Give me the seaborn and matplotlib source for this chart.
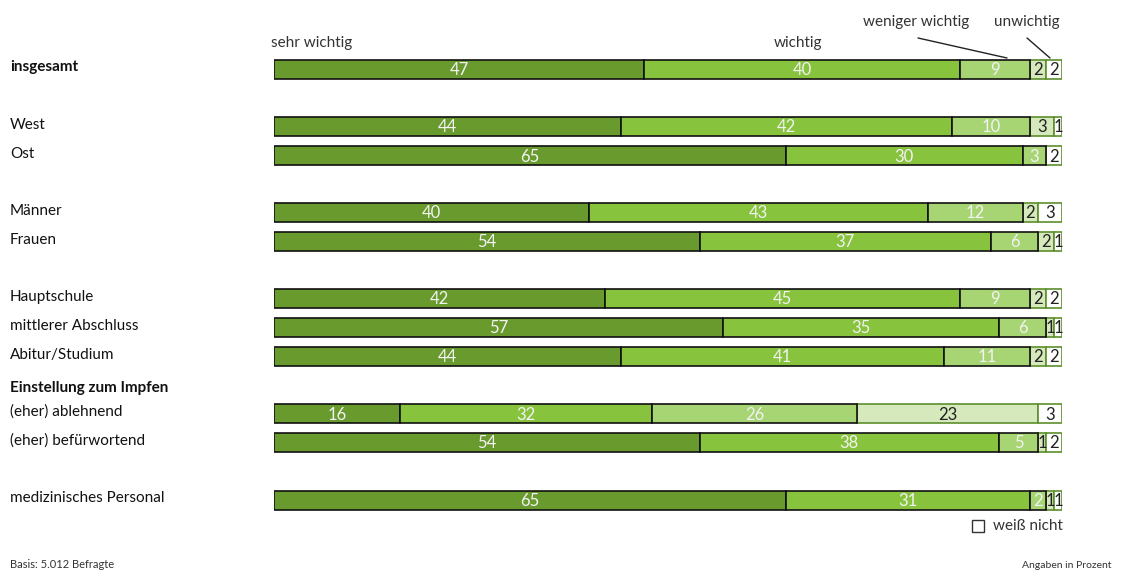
import numpy as np
import matplotlib
matplotlib.use("Agg")
import matplotlib.pyplot as plt
import seaborn as sns

# data ---------------------------------------------------------------
groups = ["insgesamt", "West", "Ost", "Männer", "Frauen", "Hauptschule",
          "mittlerer Abschluss", "Abitur/Studium", "(eher) ablehnend",
          "(eher) befürwortend", "medizinisches Personal"]
categories = ["sehr wichtig", "wichtig", "weniger wichtig", "unwichtig", "weiß nicht"]
sehr_wichtig = [47, 44, 65, 40, 54, 42, 57, 44, 16, 54, 65]
wichtig = [40, 42, 30, 43, 37, 45, 35, 41, 32, 38, 31]
weniger_wichtig = [9, 10, 3, 12, 6, 9, 6, 11, 26, 5, 2]
unwichtig = [2, 3, 0, 2, 2, 2, 1, 2, 23, 1, 1]
weiss_nicht = [2, 1, 2, 3, 1, 2, 1, 2, 3, 2, 1]

# layout (pixel rows from the top of the figure)
W, H = 1142, 570
row_y = [69, 126.5, 155.5, 212.5, 241, 298, 327, 356, 413.5, 442, 500]
bold_rows = {"insgesamt"}
bar_h = 19

colors = ["#699a2e", "#87c33c", "#a7d573", "#d5e9bc", "#ffffff"]
edges = ["#111111", "#111111", "#111111", "#5e8f2c", "#5e8f2c"]
txt_colors = ["#f2f2f2", "#f2f2f2", "#f2f2f2", "#222222", "#222222"]

sns.set_theme(style="white")
plt.rcParams['font.family'] = ['Lato', 'DejaVu Sans']

fig = plt.figure(figsize=(W / 100, H / 100), dpi=100)
x0, x1 = 274, 1062
ax = fig.add_axes([x0 / W, 0, (x1 - x0) / W, 1])
ax.set_xlim(0, 100)
ax.set_ylim(H, 0)
ax.axis("off")

series = [sehr_wichtig, wichtig, weniger_wichtig, unwichtig, weiss_nicht]
left = np.zeros(len(groups))
for k, vals in enumerate(series):
    vals = np.array(vals, dtype=float)
    mask = vals > 0
    ax.barh(np.array(row_y)[mask], vals[mask], left=left[mask], height=bar_h,
            color=colors[k], edgecolor=edges[k], linewidth=1.2, zorder=3 + (k < 3))
    for y, l, v in zip(np.array(row_y)[mask], left[mask], vals[mask]):
        ax.text(l + v / 2, y + 1, f"{int(v)}", ha="center", va="center",
                fontsize=12, color=txt_colors[k], zorder=6)
    left += vals

def px(x, y):
    return x / W, 1 - y / H

for g, y in zip(groups, row_y):
    fig.text(*px(10, y - 1.5), g, ha="left", va="center", fontsize=11,
             color="#111111", fontweight="bold" if g in bold_rows else "normal")
fig.text(*px(10, 388), "Einstellung zum Impfen", ha="left", va="center",
         fontsize=11, color="#111111", fontweight="bold")

# column headers
fig.text(*px(271, 43), "sehr wichtig", ha="left", va="center", fontsize=11, color="#333333")
fig.text(*px(822, 43), "wichtig", ha="right", va="center", fontsize=11, color="#333333")
fig.text(*px(916, 22), "weniger wichtig", ha="center", va="center", fontsize=11, color="#333333")
fig.text(*px(1027, 22), "unwichtig", ha="center", va="center", fontsize=11, color="#333333")
fig.add_artist(plt.Line2D([918 / W, 1007 / W], [1 - 38 / H, 1 - 58 / H], color="#222222", lw=1))
fig.add_artist(plt.Line2D([1027 / W, 1050 / W], [1 - 38 / H, 1 - 58 / H], color="#222222", lw=1))

# legend for "weiß nicht"
fig.add_artist(plt.Rectangle(px(972, 532), 12 / W, 12 / H, facecolor="white",
                             edgecolor="#333333", lw=1))
fig.text(*px(993, 526), "weiß nicht", ha="left", va="center", fontsize=11, color="#333333")

fig.text(*px(10, 565), "Basis: 5.012 Befragte", ha="left", va="center", fontsize=8, color="#333333")
fig.text(*px(1112, 566), "Angaben in Prozent", ha="right", va="center", fontsize=7.5, color="#333333")

fig.savefig("out.png", dpi=100)
